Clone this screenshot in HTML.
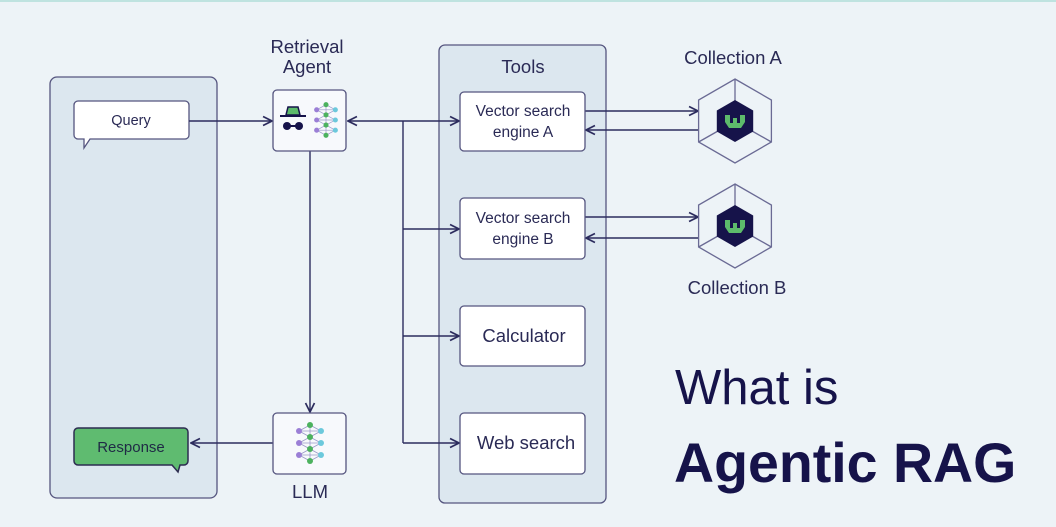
<!DOCTYPE html>
<html><head><meta charset="utf-8"><style>
html,body{margin:0;padding:0;background:#edf3f7;}
svg{display:block;font-family:"Liberation Sans",sans-serif;}
</style></head><body>
<svg width="1056" height="527" viewBox="0 0 1056 527" xmlns="http://www.w3.org/2000/svg">
<defs>
<marker id="a" viewBox="0 0 10 10" refX="9" refY="5" markerWidth="8" markerHeight="8" orient="auto-start-reverse"><path d="M1,1 L9,5 L1,9" fill="none" stroke="#2c2c5e" stroke-width="1.5"/></marker>
<g id="net">
<g stroke="#9a98c8" stroke-width="0.8">
<line x1="-11" y1="-12" x2="0" y2="-18"/><line x1="11" y1="-12" x2="0" y2="-18"/>
<line x1="-11" y1="-12" x2="0" y2="-6"/><line x1="11" y1="-12" x2="0" y2="-6"/>
<line x1="-11" y1="0" x2="0" y2="-6"/><line x1="11" y1="0" x2="0" y2="-6"/>
<line x1="-11" y1="0" x2="0" y2="6"/><line x1="11" y1="0" x2="0" y2="6"/>
<line x1="-11" y1="12" x2="0" y2="6"/><line x1="11" y1="12" x2="0" y2="6"/>
<line x1="-11" y1="12" x2="0" y2="18"/><line x1="11" y1="12" x2="0" y2="18"/>
<line x1="-11" y1="-12" x2="11" y2="-12"/><line x1="-11" y1="0" x2="11" y2="0"/><line x1="-11" y1="12" x2="11" y2="12"/>
<line x1="0" y1="-18" x2="0" y2="18"/>
</g>
<g fill="#9b7fd6"><circle cx="-11" cy="-12" r="3"/><circle cx="-11" cy="0" r="3"/><circle cx="-11" cy="12" r="3"/></g>
<g fill="#6cc9dc"><circle cx="11" cy="-12" r="3"/><circle cx="11" cy="0" r="3"/><circle cx="11" cy="12" r="3"/></g>
<g fill="#4cb25e"><circle cx="0" cy="-18" r="3"/><circle cx="0" cy="-6" r="3"/><circle cx="0" cy="6" r="3"/><circle cx="0" cy="18" r="3"/></g>
</g>
<g id="hex">
<polygon points="0,-42 36.4,-21 36.4,21 0,42 -36.4,21 -36.4,-21" fill="none" stroke="#6a6a94" stroke-width="1.3"/>
<line x1="0" y1="-42" x2="0" y2="-20" stroke="#6a6a94" stroke-width="1.3"/>
<line x1="-36.4" y1="21" x2="-17" y2="10" stroke="#6a6a94" stroke-width="1.3"/>
<line x1="36.4" y1="21" x2="17" y2="10" stroke="#6a6a94" stroke-width="1.3"/>
<polygon points="0,-21 18.2,-10.5 18.2,10.5 0,21 -18.2,10.5 -18.2,-10.5" fill="#16134a"/>
<path d="M-10,-6 L-5,-6 L-5,2 L-2,2 L-2,-3 L2,-3 L2,2 L5,2 L5,-6 L10,-6 L10,1 L6,7 L-6,7 L-10,1 Z" fill="#5dbb6b"/>
</g>
</defs>
<rect x="0" y="0" width="1056" height="2" fill="#bfe3e0"/>
<rect x="50" y="77" width="167" height="421" rx="7" fill="#dce7ef" stroke="#55557f" stroke-width="1.3"/>
<path d="M78,101 H185 a4,4 0 0 1 4,4 V135 a4,4 0 0 1 -4,4 H90 L84,148 L84,139 H78 a4,4 0 0 1 -4,-4 V105 a4,4 0 0 1 4,-4Z" fill="#fff" stroke="#55557f" stroke-width="1.3"/>
<text x="131" y="125" font-size="14.5" fill="#2a2a55" text-anchor="middle">Query</text>
<path d="M78,428 H184 a4,4 0 0 1 4,4 V461 a4,4 0 0 1 -4,4 H180 L178,472 L172,465 H78 a4,4 0 0 1 -4,-4 V432 a4,4 0 0 1 4,-4Z" fill="#5fbb70" stroke="#2c2c50" stroke-width="1.5"/>
<text x="131" y="452" font-size="15" fill="#1f2a45" text-anchor="middle">Response</text>
<rect x="439" y="45" width="167" height="458" rx="6" fill="#dce7ef" stroke="#55557f" stroke-width="1.3"/>
<text x="523" y="73" font-size="18.5" fill="#2a2a55" text-anchor="middle">Tools</text>
<g stroke="#2c2c5e" stroke-width="1.4" fill="none">
<line x1="189" y1="121" x2="272" y2="121" marker-end="url(#a)"/>
<line x1="348" y1="121" x2="459" y2="121" marker-start="url(#a)" marker-end="url(#a)"/>
<line x1="403" y1="121" x2="403" y2="443"/>
<line x1="403" y1="229" x2="459" y2="229" marker-end="url(#a)"/>
<line x1="403" y1="336" x2="459" y2="336" marker-end="url(#a)"/>
<line x1="403" y1="443" x2="459" y2="443" marker-end="url(#a)"/>
<line x1="310" y1="151" x2="310" y2="412" marker-end="url(#a)"/>
<line x1="273" y1="443" x2="191" y2="443" marker-end="url(#a)"/>
<line x1="585" y1="111" x2="698" y2="111" marker-end="url(#a)"/>
<line x1="698" y1="130" x2="586" y2="130" marker-end="url(#a)"/>
<line x1="585" y1="217" x2="698" y2="217" marker-end="url(#a)"/>
<line x1="698" y1="238" x2="586" y2="238" marker-end="url(#a)"/>
</g>
<text x="307" y="53" font-size="18.5" fill="#2a2a55" text-anchor="middle">Retrieval</text>
<text x="307" y="73" font-size="18.5" fill="#2a2a55" text-anchor="middle">Agent</text>
<rect x="273" y="90" width="73" height="61" rx="4" fill="#f7f9fc" stroke="#55557f" stroke-width="1.3"/>
<path d="M288,107 L298,107 L300,115 L286,115 Z" fill="#5dbb6b" stroke="#16134a" stroke-width="1.5"/>
<line x1="280" y1="116" x2="306" y2="116" stroke="#16134a" stroke-width="2"/>
<circle cx="287" cy="126" r="4" fill="#16134a"/><circle cx="299" cy="126" r="4" fill="#16134a"/>
<line x1="287" y1="126" x2="299" y2="126" stroke="#16134a" stroke-width="2"/>
<g transform="translate(326,120) scale(0.85)"><use href="#net"/></g>
<rect x="273" y="413" width="73" height="61" rx="4" fill="#f7f9fc" stroke="#55557f" stroke-width="1.3"/>
<use href="#net" transform="translate(310,443)"/>
<text x="310" y="498" font-size="18.5" fill="#2a2a55" text-anchor="middle">LLM</text>
<g fill="#fff" stroke="#55557f" stroke-width="1.3">
<rect x="460" y="92" width="125" height="59" rx="4"/>
<rect x="460" y="198" width="125" height="61" rx="4"/>
<rect x="460" y="306" width="125" height="60" rx="4"/>
<rect x="460" y="413" width="125" height="61" rx="4"/>
</g>
<g font-size="15.5" fill="#2a2a55" text-anchor="middle">
<text x="523" y="116">Vector search</text><text x="523" y="137">engine A</text>
<text x="523" y="223">Vector search</text><text x="523" y="244">engine B</text>
<text x="524" y="342" font-size="18.5">Calculator</text>
<text x="526" y="449" font-size="18.5">Web search</text>
</g>
<text x="733" y="64" font-size="18.5" fill="#2a2a55" text-anchor="middle">Collection A</text>
<use href="#hex" transform="translate(735,121)"/>
<use href="#hex" transform="translate(735,226)"/>
<text x="737" y="294" font-size="18.5" fill="#2a2a55" text-anchor="middle">Collection B</text>
<text x="675" y="404" font-size="49" fill="#16134a">What is</text>
<text x="674" y="482" font-size="55.5" font-weight="bold" fill="#16134a">Agentic RAG</text>
</svg>
</body></html>
